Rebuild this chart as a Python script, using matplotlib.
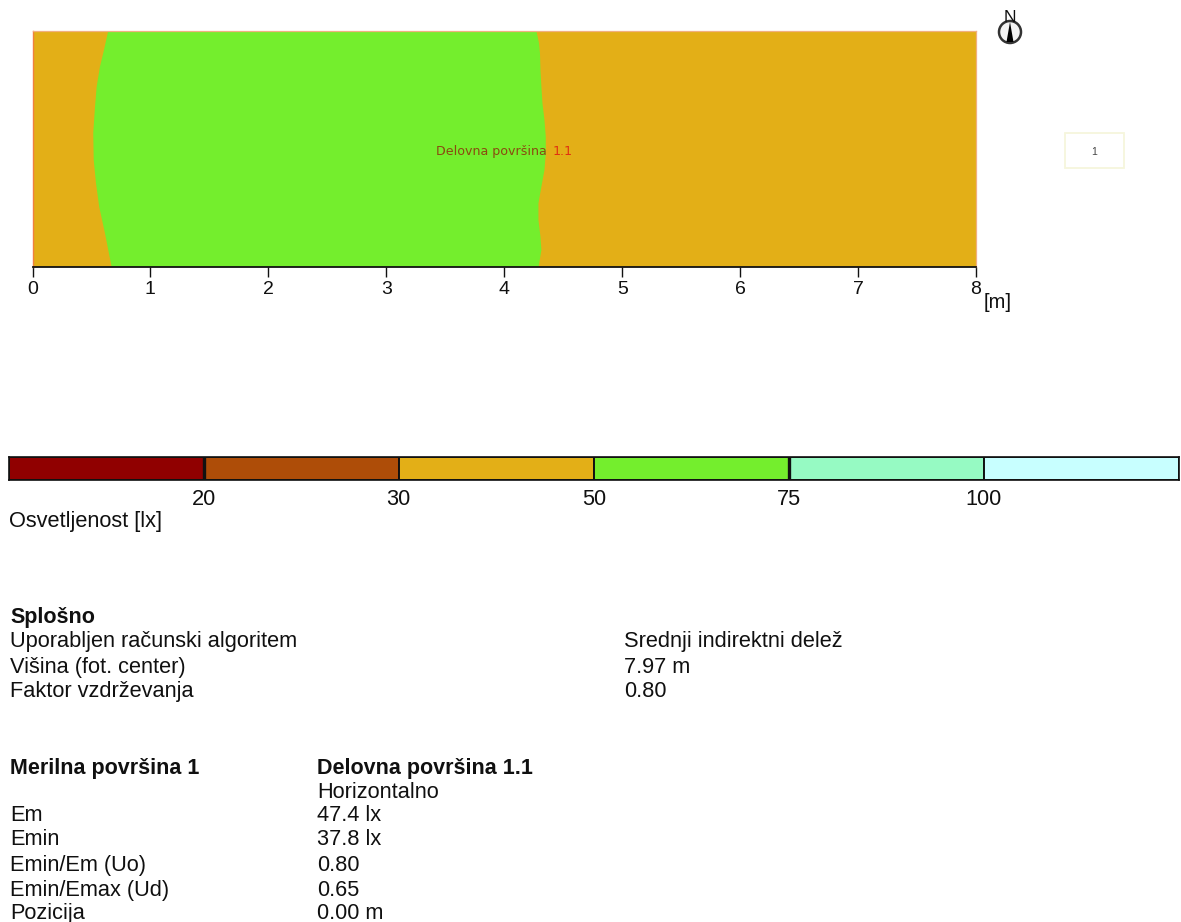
import matplotlib
matplotlib.use("Agg")
import matplotlib.pyplot as plt
from matplotlib.patches import Rectangle, Circle, Polygon

plt.rcParams['font.family'] = ['Liberation Sans', 'DejaVu Sans']
W, H = 1181, 922

# --- isolux contour, metres (width 8 m, depth 2 m)
left_y  = [2.000, 1.839, 1.698, 1.528, 1.358, 1.136, 0.907, 0.712, 0.508, 0.288, 0.000]
left_x  = [0.642, 0.606, 0.572, 0.544, 0.530, 0.515, 0.519, 0.538, 0.566, 0.614, 0.671]
right_y = [0.000, 0.059, 0.144, 0.257, 0.398, 0.540, 0.681, 0.822, 0.964, 1.104, 1.246,
           1.387, 1.528, 1.669, 1.811, 1.896, 2.000]
right_x = [4.292, 4.301, 4.315, 4.307, 4.290, 4.290, 4.315, 4.341, 4.352, 4.352, 4.341,
           4.324, 4.315, 4.307, 4.303, 4.295, 4.273]
x_ticks = [0, 1, 2, 3, 4, 5, 6, 7, 8]
band_outer = '#E3AF17'
band_inner = '#74EE2D'

# --- legend
legend_colors = ['#900000', '#AE4D08', '#E3AF17', '#74EE2D', '#96FAC3', '#C8FFFF']
legend_levels = ['20', '30', '50', '75', '100']

# --- text block
general_rows = [('Uporabljen računski algoritem', 'Srednji indirektni delež'),
                ('Višina (fot. center)', '7.97 m'),
                ('Faktor vzdrževanja', '0.80')]
surface_rows = [('Em', '47.4 lx'), ('Emin', '37.8 lx'), ('Emin/Em (Uo)', '0.80'),
                ('Emin/Emax (Ud)', '0.65'), ('Pozicija', '0.00 m')]

fig = plt.figure(figsize=(W / 100, H / 100), dpi=100, facecolor='white')

def axes_px(x0, y0, x1, y1):
    return fig.add_axes([x0 / W, 1 - y1 / H, (x1 - x0) / W, (y1 - y0) / H])

def text_px(x, y, s, **kw):
    kw.setdefault('fontsize', 15.7)
    kw.setdefault('va', 'baseline')
    kw.setdefault('color', '#101010')
    fig.text(x / W, 1 - y / H, s, **kw)

# plan view
ax = axes_px(32.5, 31, 976, 267)
ax.set_xlim(0, 8)
ax.set_ylim(0, 2)
ax.set_facecolor(band_outer)
ax.fill(left_x + right_x, left_y + right_y, color=band_inner, lw=0, zorder=2)
for s in ('right', 'top'):
    ax.spines[s].set_color('#F0B080')
    ax.spines[s].set_linewidth(0.9)
ax.spines['left'].set_color('#F08040')
ax.spines['left'].set_linewidth(1.0)
ax.spines['bottom'].set_color('#111111')
ax.spines['bottom'].set_linewidth(1.3)
ax.set_xticks(x_ticks)
ax.set_yticks([])
ax.tick_params(axis='x', length=7.5, width=1.0, color='#111111', labelsize=14, pad=2.5, labelcolor='#101010')
ax.text(3.42, 0.983, 'Delovna površina', fontsize=9.1, family='DejaVu Sans', color='#8A4A10', va='center', zorder=3)
ax.text(4.41, 0.983, '1.1', fontsize=9.1, family='DejaVu Sans', color='#E03010', va='center', zorder=3)
text_px(984, 308, '[m]', fontsize=14.5)

# north marker
overlay = fig.add_axes([0, 0, 1, 1], facecolor='none')
overlay.set_xlim(0, W)
overlay.set_ylim(H, 0)
overlay.axis('off')
overlay.add_patch(Circle((1010, 32), 11, fc='#F4F4F4', ec='#333333', lw=1.8))
overlay.add_patch(Polygon([(1006.5, 42), (1010, 22), (1013.5, 42)], fc='black', ec='none'))
text_px(1010, 22, 'N', fontsize=12.5, ha='center')

# room index box
overlay.add_patch(Rectangle((1065, 133), 59, 35, fc='white', ec='#F6F6DC', lw=1.3))
text_px(1094, 155, '1', fontsize=7.5, ha='center', color='#444444')

# legend bar
lax = axes_px(8.5, 457, 1179, 480)
lax.set_xlim(0, len(legend_colors))
lax.set_ylim(0, 1)
lax.bar(range(len(legend_colors)), [1] * len(legend_colors), width=1, align='edge',
        color=legend_colors, edgecolor='#111111', linewidth=1.4)
lax.axvline(1, color='#111111', lw=2.4)
lax.axvline(4, color='#111111', lw=2.4)
lax.set_yticks([])
lax.set_xticks(range(1, len(legend_levels) + 1))
lax.set_xticklabels(legend_levels)
lax.tick_params(axis='x', length=0, labelsize=15.7, pad=6.8, labelcolor='#101010')
for s in lax.spines.values():
    s.set_color('#111111')
    s.set_linewidth(1.2)
text_px(9, 527, 'Osvetljenost [lx]')

# text
text_px(10, 623, 'Splošno', fontweight='bold', fontsize=15.5)
for (k, v), y in zip(general_rows, [647, 673, 697]):
    text_px(10, y, k)
    text_px(624, y, v)

text_px(10, 774, 'Merilna površina 1', fontweight='bold', fontsize=15.5)
text_px(317, 774, 'Delovna površina 1.1', fontweight='bold', fontsize=15.5)
text_px(317, 798, 'Horizontalno')
for (k, v), y in zip(surface_rows, [821, 845, 871, 896, 919]):
    text_px(10, y, k)
    text_px(317, y, v)

fig.savefig('out.png', dpi=100, facecolor='white')
